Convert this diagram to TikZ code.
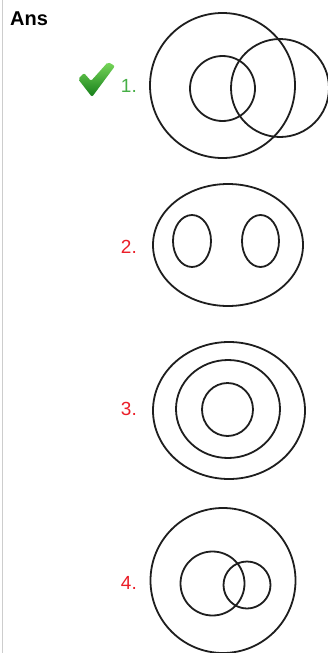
\documentclass[tikz,border=0pt]{standalone}
\usepackage{fontspec}
\setmainfont{Liberation Sans}
\usetikzlibrary{positioning}
\definecolor{ringgray}{RGB}{30,30,30}
\definecolor{framegray}{RGB}{205,205,205}
\definecolor{okgreen}{RGB}{70,175,70}
\definecolor{badred}{RGB}{235,30,40}
\definecolor{tickhi}{RGB}{120,215,90}
\definecolor{ticklo}{RGB}{20,125,25}

\begin{document}
\begin{tikzpicture}[
      x=1pt, y=-1pt,
      ring/.style={draw=ringgray, line width=1.8pt},
      num/.style={anchor=east, inner sep=0pt, font=\fontsize{19}{19}\selectfont},
    ]
    \useasboundingbox (0,0) rectangle (328,653);
    \fill[white] (0,0) rectangle (328,653);
    \draw[framegray, line width=1pt] (2.5,0) -- (2.5,653);
    \node[anchor=west, inner sep=0pt, font=\fontsize{20}{20}\selectfont\bfseries] (ans) at (10,19) {Ans};

    % option 1
    \node[num, text=okgreen] (n1) at (137,86) {1.};
    \shade[top color=tickhi, bottom color=ticklo, rounded corners=2pt]
      (78,79) -- (84,73) -- (91,81) -- (108,62) -- (115,66) -- (92,97) -- cycle;
    \draw[ring] (222.5,85.5) circle (72.5);
    \draw[ring] (222.5,88.5) circle (32.5);
    \draw[ring] (280,88) circle (49);

    % option 2
    \node[num, text=badred] (n2) at (137,247) {2.};
    \draw[ring] (228,245) ellipse (75 and 61);
    \draw[ring] (192,241) ellipse (19 and 26);
    \draw[ring] (260.5,241) ellipse (18.5 and 26);

    % option 3
    \node[num, text=badred] (n3) at (137,409) {3.};
    \draw[ring] (229,410.5) ellipse (76 and 68.5);
    \draw[ring] (228,409) ellipse (52 and 49);
    \draw[ring] (227.5,409.5) ellipse (25.5 and 26.5);

    % option 4
    \node[num, text=badred] (n4) at (137,583) {4.};
    \draw[ring] (223,580.5) circle (72.5);
    \draw[ring] (212.5,583.5) circle (32);
    \draw[ring] (247,585) circle (23.5);
  \end{tikzpicture}
\end{document}
